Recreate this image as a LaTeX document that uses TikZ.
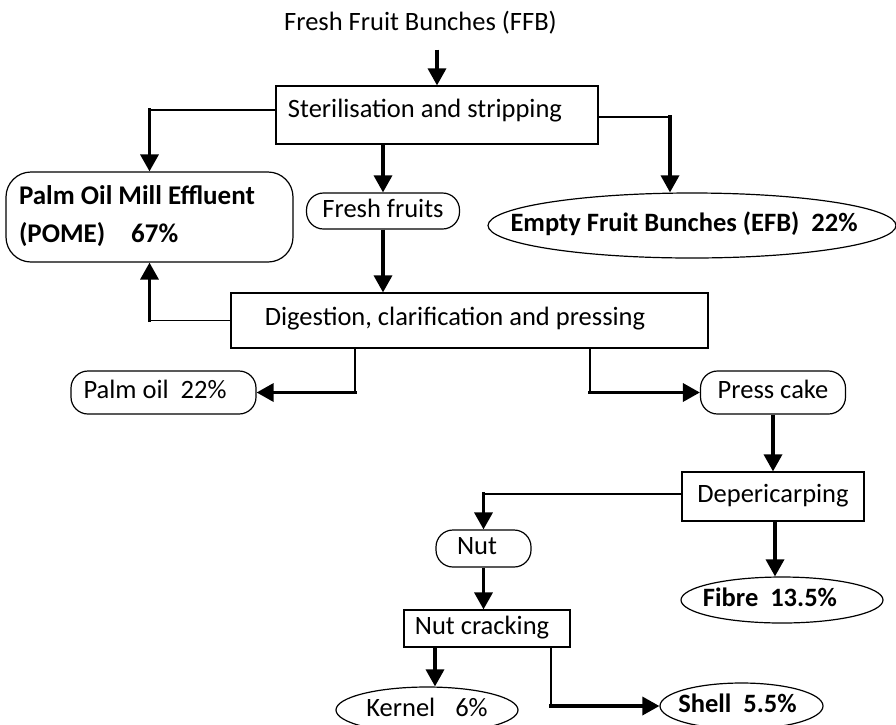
\documentclass[tikz,border=0pt]{standalone}
\usepackage{fontspec}
\setmainfont{Carlito}
\usepackage{tikz}
\usetikzlibrary{arrows.meta, shapes.geometric}

\begin{document}
\begin{tikzpicture}[x=1pt, y=-1pt,
        every node/.style={font=\fontsize{26.5}{38}\selectfont},
        procbox/.style={draw, line width=1.2pt, inner ysep=0pt, text height=18pt, text depth=6pt},
        pill/.style={draw, line width=1.2pt, inner sep=0pt, rounded corners=17pt, text height=18pt, text depth=6pt},
        oval/.style={draw, ellipse, line width=1.2pt, inner xsep=-60pt, inner ysep=0pt, text height=18pt, text depth=6pt, font=\fontsize{26.5}{38}\selectfont\bfseries},
        leg/.style={line width=1.9pt},
        flow/.style={line width=3.4pt, -{Triangle[length=17pt, width=18pt]}},
        bent/.style={flow, shorten <=-1.7pt}]
    \useasboundingbox (0,0) rectangle (896,724);
    \clip (0,0) rectangle (896,724);

    % input and first stage
    \node[anchor=base] (ffb) at (420.5, 30.5) {Fresh Fruit Bunches (FFB)};
    \node[draw, line width=1.2pt, minimum width=322pt, inner ysep=4pt,
          text height=27pt, text depth=23pt] (steril) at (437, 115) {Sterilisation and stripping\hspace*{24pt}};

    \node[draw, line width=1.2pt, rounded corners=25pt, text width=261pt, align=left, inner xsep=13pt,
          inner ysep=4pt, text height=28.5pt, text depth=53.5pt, font=\fontsize{27}{38}\selectfont\bfseries]
          (pome) at (149.5, 217) {\spaceskip=0pt Palm Oil Mill Effluent\\(POME)\hspace{26pt}67\%};
    \node[pill, minimum width=153pt, minimum height=36pt] (fruits) at (383, 211) {Fresh fruits};
    \node[oval, minimum width=408pt, minimum height=65pt] (efb) at (692, 225.5) {Empty Fruit Bunches (EFB)~~22\%\hspace*{16pt}};

    % pressing
    \node[draw, line width=1.2pt, minimum width=477pt, inner ysep=4pt,
          text height=28pt, text depth=19pt] (digest) at (469.5, 320.5) {Digestion, clarification and pressing\hspace*{29pt}};
    \node[pill, minimum width=185pt, minimum height=43pt] (palm) at (163.5, 392.5) {Palm oil~~22\%\hspace*{17pt}};
    \node[pill, minimum width=145pt, minimum height=43pt] (press) at (773, 392.5) {Press cake};

    % nut line
    \node[procbox, minimum width=182pt, minimum height=49pt] (depic) at (773, 496.5) {Depericarping};
    \node[pill, minimum width=95pt, minimum height=37pt] (nut) at (483.5, 548.5) {Nut\hspace*{13pt}};
    \node[oval, minimum width=202pt, minimum height=46pt] (fibre) at (782, 600) {Fibre~~13.5\%\hspace*{24pt}};
    \node[procbox, minimum width=166pt, minimum height=37pt] (crack) at (487, 628.5) {Nut cracking\hspace*{10pt}};
    \node[oval, minimum width=182pt, minimum height=46pt, font=\fontsize{26.5}{38}\selectfont] (kernel) at (427, 710) {Kernel\hspace{20pt}6\%};
    \node[oval, minimum width=163pt, minimum height=46pt] (shell) at (741.5, 706) {Shell~~5.5\%\hspace*{8pt}};

    % corners of the bent connectors
    \coordinate (kpome) at ([yshift=5pt]steril.west -| pome.north);
    \coordinate (kefb) at ([yshift=-2pt, xshift=-22pt]steril.east -| efb.north);
    \coordinate (kback) at (digest.west -| pome.south);
    \coordinate (koil) at ([xshift=-114.5pt]digest.south |- palm.east);
    \coordinate (kcake) at ([xshift=120.5pt]digest.south |- press.west);
    \coordinate (knut) at ([yshift=2.5pt]depic.west -| nut.north);
    \coordinate (kshell) at ([xshift=64pt]crack.south |- shell.west);

    \draw[flow, shorten <=12pt] (ffb.south -| steril.north) -- (steril.north); % FFB-steril
    \draw[leg] ([yshift=5pt]steril.west) -- (kpome); % steril-POME
    \draw[bent] (kpome) -- (pome.north);
    \draw[flow] (steril.south -| fruits.north) -- (fruits.north); % steril-fruits
    \draw[leg] ([yshift=-2pt]steril.east) -- (kefb); % steril-EFB
    \draw[bent] (kefb) -- ([xshift=-22pt]efb.north);
    \draw[flow] (fruits.south) -- (fruits.south |- digest.north); % fruits-digest
    \draw[leg] (digest.west) -- (kback); % digest-POME
    \draw[bent] (kback) -- (pome.south);
    \draw[leg] ([xshift=-114.5pt]digest.south) -- (koil); % digest-oil
    \draw[bent] (koil) -- (palm.east);
    \draw[leg] ([xshift=120.5pt]digest.south) -- (kcake); % digest-cake
    \draw[bent] (kcake) -- (press.west);
    \draw[flow] (press.south) -- (depic.north); % cake-depic
    \draw[leg] ([yshift=2.5pt]depic.west) -- (knut); % depic-nut
    \draw[bent] (knut) -- (nut.north);
    \draw[flow] (nut.south) -- (nut.south |- crack.north); % nut-crack
    \draw[flow] ([xshift=2pt]depic.south) -- ([xshift=2pt]depic.south |- fibre.north); % depic-fibre
    \draw[flow] ([xshift=-52pt]crack.south) -- ([xshift=8pt]kernel.north); % crack-kernel
    \draw[leg] ([xshift=64pt]crack.south) -- (kshell); % crack-shell
    \draw[bent] (kshell) -- (shell.west);
\end{tikzpicture}
\end{document}
